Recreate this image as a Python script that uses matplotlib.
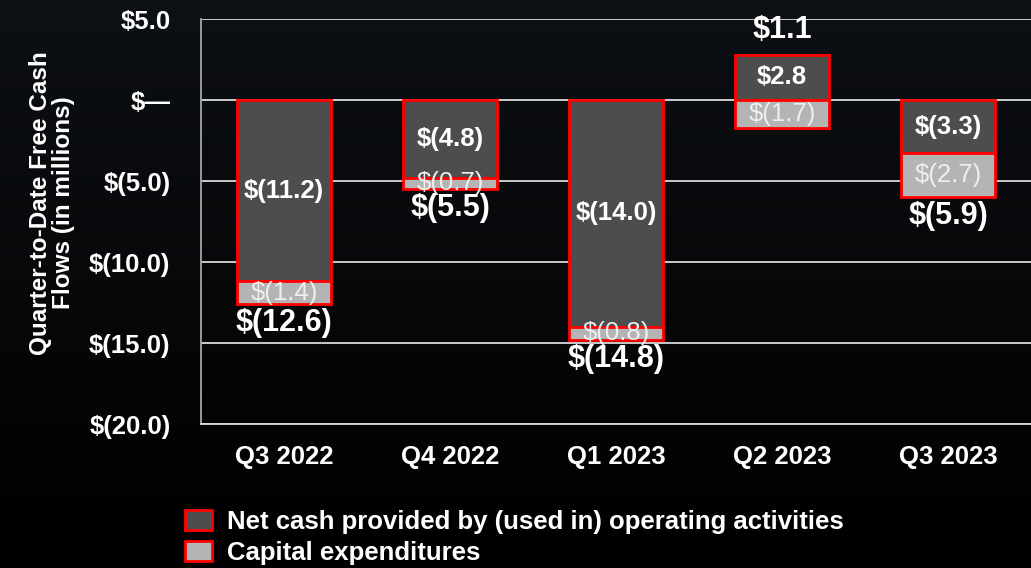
import numpy as np
import matplotlib
matplotlib.use("Agg")
import matplotlib.pyplot as plt
from matplotlib.patches import Patch

plt.rcParams['font.family'] = ['Liberation Sans', 'DejaVu Sans']

quarters = ['Q3 2022', 'Q4 2022', 'Q1 2023', 'Q2 2023', 'Q3 2023']
operating = [-11.2, -4.8, -14.0, 2.8, -3.3]
capex = [-1.4, -0.7, -0.8, -1.7, -2.7]
totals = [-12.6, -5.5, -14.8, 1.1, -5.9]

yticks = [5, 0, -5, -10, -15, -20]
ytick_labels = ['$5.0', '$\u2014', '$(5.0)', '$(10.0)', '$(15.0)', '$(20.0)']


def money(v):
    if v < 0:
        return '$(%.1f)' % abs(v)
    return '$%.1f' % v


dark = '#4d4d4d'
light = '#b4b4b4'
red = '#ff0000'

fig = plt.figure(figsize=(10.31, 5.68), dpi=100)
fig.patch.set_facecolor('#000000')

# dark slide background, a bit lighter at the top
bg = fig.add_axes([0, 0, 1, 1], zorder=-10)
grad = np.linspace(0, 1, 256).reshape(-1, 1)
bg.imshow(grad, aspect='auto', cmap=matplotlib.colors.LinearSegmentedColormap.from_list(
    'bg', ['#0d1014', '#000000']), extent=[0, 1, 0, 1], origin='upper')
bg.axis('off')

ax = fig.add_axes([0.195, 0.2535, 0.805, 0.713])
ax.set_facecolor('none')

x = np.arange(len(quarters))
w = 0.57
# capex stacks below operating when operating is negative, below zero otherwise
capex_base = [op if op < 0 else 0 for op in operating]

ax.bar(x, operating, w, color=dark, edgecolor=red, linewidth=2, zorder=3)
ax.bar(x, capex, w, bottom=capex_base, color=light, edgecolor=red, linewidth=2, zorder=3)

for i in range(len(quarters)):
    ax.text(x[i], operating[i] / 2, money(operating[i]), ha='center', va='center',
            color='white', fontsize=18.5, fontweight='bold', zorder=4)
    ax.text(x[i], capex_base[i] + capex[i] / 2, money(capex[i]), ha='center', va='center',
            color='#eeeeee', fontsize=18.5, zorder=4)
    if totals[i] >= 0:
        top = max(operating[i], 0)
        ax.annotate(money(totals[i]), (x[i], top), xytext=(0, 18), textcoords='offset points',
                    ha='center', va='center', color='white', fontsize=22, fontweight='bold', zorder=4)
    else:
        bot = capex_base[i] + capex[i]
        ax.annotate(money(totals[i]), (x[i], bot), xytext=(0, -13.5), textcoords='offset points',
                    ha='center', va='center', color='white', fontsize=22, fontweight='bold', zorder=4)

ax.set_xlim(-0.5, len(quarters) - 0.5)
ax.set_ylim(-20, 5)
ax.set_yticks(yticks)
ax.set_yticklabels(ytick_labels)
ax.set_xticks(x)
ax.set_xticklabels(quarters)
ax.tick_params(axis='both', length=0, colors='white', labelsize=18.5)
ax.tick_params(axis='x', pad=15)
ax.tick_params(axis='y', pad=22)
for lab in ax.get_xticklabels() + ax.get_yticklabels():
    lab.set_fontweight('bold')

ax.grid(axis='y', color='#d9d9d9', linewidth=1.3, zorder=1)
for s in ['top', 'right']:
    ax.spines[s].set_visible(False)
ax.spines['left'].set_color('#a6a6a6')
ax.spines['bottom'].set_color('#d9d9d9')
ax.spines['left'].set_linewidth(1.3)
ax.spines['bottom'].set_linewidth(1.3)

fig.text(0.05, 0.643, 'Quarter-to-Date Free Cash\nFlows (in millions)', rotation=90,
         ha='center', va='center', color='white', fontsize=17.5, fontweight='bold',
         linespacing=1.0)

handles = [Patch(facecolor=dark, edgecolor=red, linewidth=2),
           Patch(facecolor=light, edgecolor=red, linewidth=2)]
leg = fig.legend(handles, ['Net cash provided by (used in) operating activities', 'Capital expenditures'],
                 loc='upper left', bbox_to_anchor=(185 / 1031, 1 - 510 / 568), frameon=False,
                 borderpad=0, borderaxespad=0,
                 handlelength=1.05, handleheight=0.85, handletextpad=0.6, labelspacing=0.25,
                 prop={'size': 18.5, 'weight': 'bold'})
for t in leg.get_texts():
    t.set_color('white')

fig.savefig('out.png', dpi=100, facecolor=fig.get_facecolor())
